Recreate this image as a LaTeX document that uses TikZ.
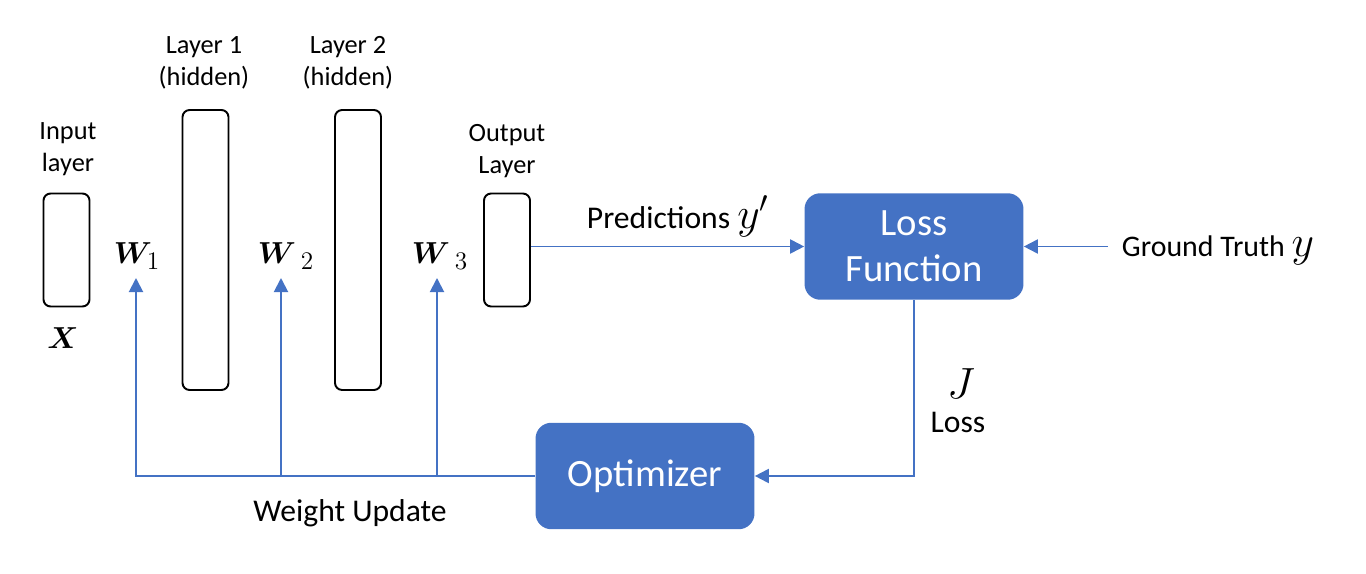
\documentclass[tikz,border=0pt]{standalone}
\usepackage{amsmath}
\usepackage{bm}
\usepackage{fontspec}
\setmainfont{Carlito}
\usepackage{tikz}
\usetikzlibrary{positioning, arrows.meta}
\definecolor{flowblue}{HTML}{4472C4}

\begin{document}
\begin{tikzpicture}[
	x=0.02cm, y=-0.02cm,
	layer/.style={rectangle, rounded corners=4pt, draw, line width=1.1pt,
		minimum width=0.92cm},
	block/.style={rectangle, rounded corners=9pt, fill=flowblue, text=white, align=center,
		minimum width=4.38cm, minimum height=2.13cm, font=\fontsize{22}{26}\selectfont},
	lbl/.style={align=center, font=\fontsize{15}{18}\selectfont},
	txt/.style={align=center, font=\fontsize{18}{21}\selectfont},
	wlbl/.style={font=\fontsize{19}{22}\selectfont},
	flow/.style={flowblue, line width=1.1pt, -{Triangle[length=8pt,width=8pt]}}
	]
	\useasboundingbox (0,0) rectangle (1366,574);

	% layers
	\node[layer, minimum height=2.26cm] (IN) at (66.5,250) {};
	\node[layer, minimum height=5.6cm] (H1) at (205.5,250) {};
	\node[layer, minimum height=5.6cm] (H2) at (358,250) {};
	\node[layer, minimum height=2.26cm] (OUT) at (507,250) {};

	\node[lbl] (INlbl) at (68,149) {Input\\layer};
	\node[lbl] (H1lbl) at (204,63) {Layer 1\\(hidden)};
	\node[lbl] (H2lbl) at (348,63) {Layer 2\\(hidden)};
	\node[lbl] (OUTlbl) at (507,151) {Output\\Layer};
	\node[wlbl] (X) at (63,338) {$\bm{X}$};

	\node[wlbl] (W1) at (137,256) {$\bm{W}_{1}$};
	\node[wlbl] (W2) at (286,256) {$\bm{W}\,_{2}$};
	\node[wlbl] (W3) at (440,256) {$\bm{W}\,_{3}$};
	\coordinate (w1) at (136,278);
	\coordinate (w2) at (281,278);
	\coordinate (w3) at (437,278);

	% loss and optimizer
	\node[block] (LOSS) at (914,246.5) {Loss\\Function};
	\node[block] (OPT) at (645,476) {Optimizer};

	\node[txt, inner sep=8pt, font=\fontsize{17}{20}\selectfont] (GT) at (1218,250)
		{Ground Truth {\fontsize{24}{24}\selectfont$y$}};
	\node[txt] (PRED) at (678,216) {Predictions {\fontsize{24}{24}\selectfont$y'$}};

	\draw[flow] (OUT.east |- LOSS.west) -- (LOSS.west);
	\draw[flow] (LOSS.east -| GT.west) -- (LOSS.east);
	\draw[flow] (LOSS.south) |- (OPT.east);
	\node[font=\fontsize{24}{24}\selectfont] (J) at (961,384) {$J$};
	\node[txt] (LOSSlbl) at (958,422) {Loss};

	\draw[flow] (OPT.west) -| (w1);
	\draw[flow] (w2 |- OPT.west) -- (w2);
	\draw[flow] (w3 |- OPT.west) -- (w3);
	\node[txt] (WU) at (350,513) {Weight Update};

\end{tikzpicture}
\end{document}
